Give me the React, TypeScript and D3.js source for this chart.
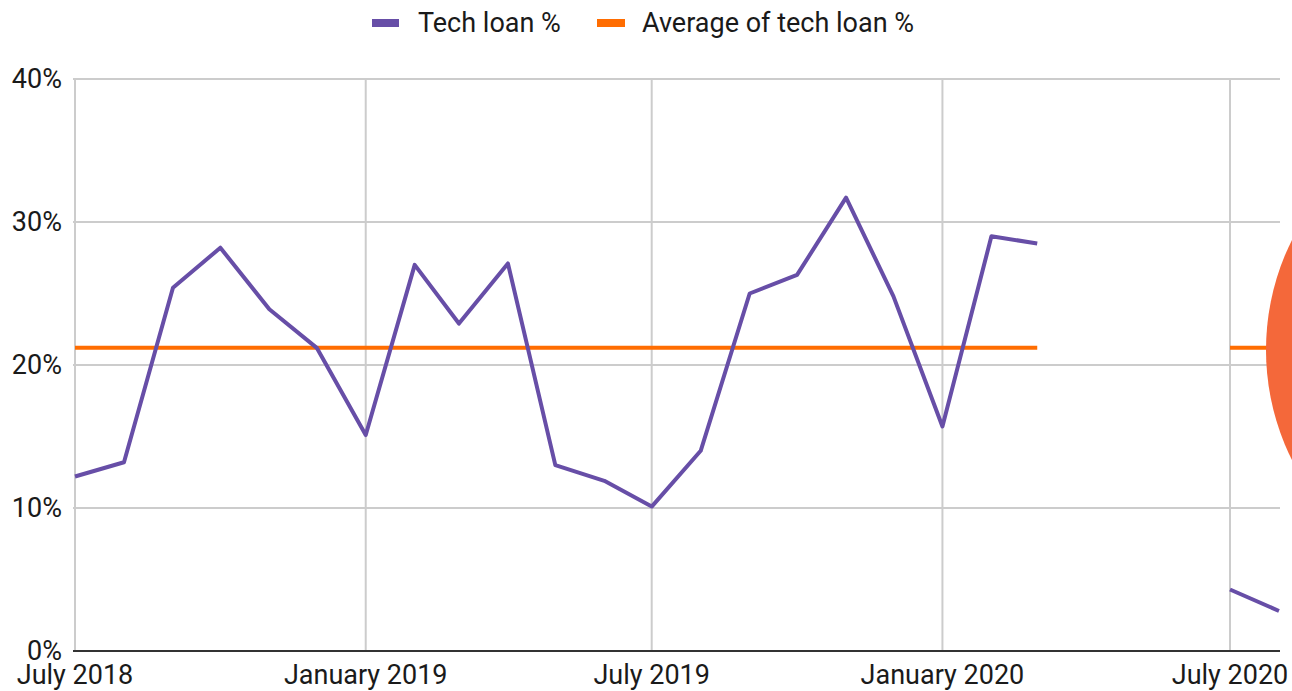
import React from 'react'
import * as d3 from 'd3'

// monthly tech loan share, Jul 2018 – Aug 2020 (null = no data)
const months = [
  '2018-07', '2018-08', '2018-09', '2018-10', '2018-11', '2018-12',
  '2019-01', '2019-02', '2019-03', '2019-04', '2019-05', '2019-06',
  '2019-07', '2019-08', '2019-09', '2019-10', '2019-11', '2019-12',
  '2020-01', '2020-02', '2020-03', '2020-04', '2020-05', '2020-06',
  '2020-07', '2020-08',
]
const techLoan: (number | null)[] = [
  12.2, 13.2, 25.4, 28.2, 23.9, 21.2,
  15.1, 27.0, 22.9, 27.1, 13.0, 11.9,
  10.1, 14.0, 25.0, 26.3, 31.7, 24.8,
  15.7, 29.0, 28.5, null, null, null,
  4.3, 2.8,
]
const averageTech = 21.2
const yTicks = [0, 10, 20, 30, 40]
const xTickMonths = ['2018-07', '2019-01', '2019-07', '2020-01', '2020-07']

const W = 1292
const H = 691
const parse = d3.timeParse('%Y-%m')
const purple = '#674ea7'
const orange = '#ff6d01'
const font = 'Roboto, "Noto Sans", sans-serif'

export default function App() {
  const x = d3.scaleTime()
    .domain([parse('2018-07')!, parse('2020-07')!])
    .range([75, 1230])
  const y = d3.scaleLinear().domain([0, 40]).range([651, 79])
  const right = 1280

  const rows = months.map((m, i) => ({ date: parse(m)!, v: techLoan[i] }))
  const line = d3.line<{ date: Date; v: number | null }>()
    .defined((d) => d.v != null)
    .x((d) => x(d.date))
    .y((d) => y(d.v as number))

  // average line follows the months that have data, runs on past the last one
  const avgRows = rows.map((r) => ({ date: r.date, v: r.v == null ? null : averageTech }))
  avgRows.push({ date: d3.timeMonth.offset(rows[rows.length - 1].date, 2), v: averageTech })

  const fmtTick = d3.timeFormat('%B %Y')

  return (
    <svg width={W} height={H} style={{ position: 'absolute', left: 0, top: 0, background: '#fff' }}>
      {/* legend */}
      <g fontFamily={font} fontSize={27} fill="#1a1a1a">
        <rect x={372} y={19} width={27} height={8} fill={purple} />
        <text x={418} y={32}>Tech loan %</text>
        <rect x={597} y={19} width={28} height={8} fill={orange} />
        <text x={642} y={32}>Average of tech loan %</text>
      </g>

      {/* gridlines */}
      <g stroke="#cccccc" strokeWidth={2}>
        {yTicks.filter((t) => t > 0).map((t) => (
          <line key={t} x1={73} x2={right} y1={y(t)} y2={y(t)} />
        ))}
        {xTickMonths.map((m) => (
          <line key={m} x1={x(parse(m)!)} x2={x(parse(m)!)} y1={y(40)} y2={y(0)} />
        ))}
      </g>
      <line x1={73} x2={right} y1={y(0)} y2={y(0)} stroke="#333" strokeWidth={2} />

      {/* y labels */}
      <g fontFamily={font} fontSize={27} fill="#1a1a1a" textAnchor="end">
        {yTicks.map((t) => (
          <text key={t} x={62} y={y(t) + 9}>{t}%</text>
        ))}
      </g>

      {/* x labels */}
      <g fontFamily={font} fontSize={27} fill="#1a1a1a" textAnchor="middle">
        {xTickMonths.map((m) => (
          <text key={m} x={x(parse(m)!)} y={684}>{fmtTick(parse(m)!)}</text>
        ))}
      </g>

      <defs>
        <clipPath id="plot">
          <rect x={0} y={0} width={right} height={H} />
        </clipPath>
      </defs>
      <g clipPath="url(#plot)">
        <path d={line(avgRows) || ''} fill="none" stroke={orange} strokeWidth={4} />
        <path d={line(rows) || ''} fill="none" stroke={purple} strokeWidth={4} strokeLinejoin="round" />
      </g>

      {/* orange highlight blob at the right edge */}
      <circle cx={1512} cy={350} r={246} fill="#f4683a" />
    </svg>
  )
}
